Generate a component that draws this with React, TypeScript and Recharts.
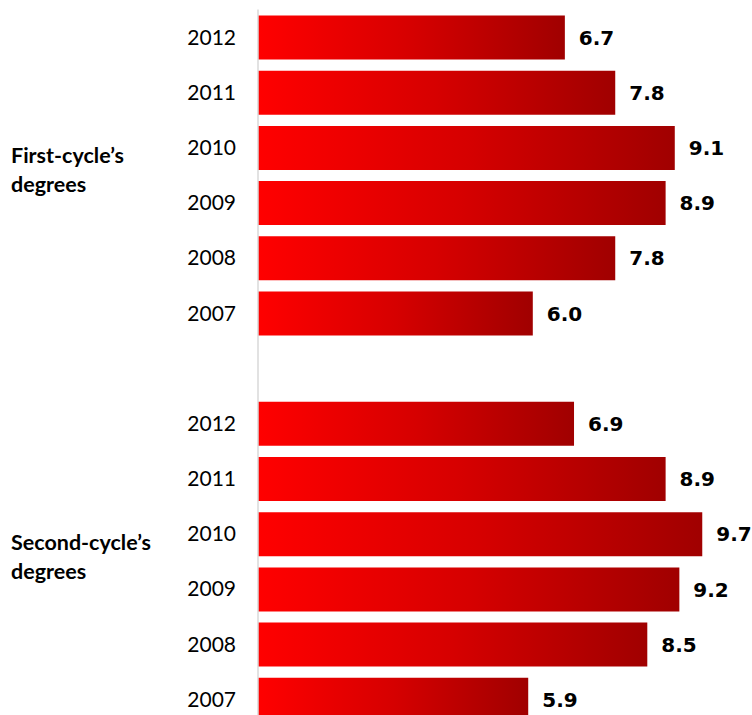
import React from "react"
import { Bar, BarChart, LabelList, XAxis, YAxis } from "recharts"

// values (top to bottom inside each group)
const years = ["2012", "2011", "2010", "2009", "2008", "2007"]
const firstCycle = [6.7, 7.8, 9.1, 8.9, 7.8, 6.0]
const secondCycle = [6.9, 8.9, 9.7, 9.2, 8.5, 5.9]
const groupNames = [
  ["First-cycle’s", "degrees"],
  ["Second-cycle’s", "degrees"],
]
// row inside each group where the group name is drawn
const groupLabelRow = "2010"

type Row = { key: string; year: string; value: number | null; group?: string[] }

const buildRows = (): Row[] => {
  const rows: Row[] = []
  const groups = [firstCycle, secondCycle]
  groups.forEach((vals, g) => {
    if (g > 0) rows.push({ key: `gap-${g}`, year: "", value: null })
    years.forEach((year, i) => {
      rows.push({
        key: `${g}-${year}`,
        year,
        value: vals[i],
        group: year === groupLabelRow ? groupNames[g] : undefined,
      })
    })
  })
  return rows
}

const data = buildRows()

const YearTick = (props: any) => {
  const { x, y, payload } = props
  const row = data.find((r) => r.key === payload.value)
  if (!row) return <g />
  return (
    <g>
      <text
        x={x}
        y={y}
        dy="0.355em"
        textAnchor="end"
        fontFamily="Lato"
        fontSize={21}
        fill="#000"
      >
        {row.year}
      </text>
      {row.group && (
        <text x={11} y={y + 16} fontFamily="Lato" fontWeight="bold" fontSize={21.5} fill="#000">
          <tspan x={11}>{row.group[0]}</tspan>
          <tspan x={11} dy={29}>
            {row.group[1]}
          </tspan>
        </text>
      )}
    </g>
  )
}

export default function App() {
  return (
    <div style={{ position: "absolute", left: 0, top: 0, width: 752, height: 715, overflow: "hidden", background: "#fff" }}>
      <BarChart
        width={752}
        height={727}
        data={data}
        layout="vertical"
        margin={{ top: 9.5, right: 36, bottom: 0, left: 0 }}
      >
        <defs>
          <linearGradient id="barRed" x1="0" y1="0" x2="1" y2="0">
            <stop offset="0%" stopColor="#ff0000" />
            <stop offset="50%" stopColor="#d60000" />
            <stop offset="100%" stopColor="#a00000" />
          </linearGradient>
        </defs>
        <XAxis type="number" domain={[0, 10]} hide />
        <YAxis
          type="category"
          dataKey="key"
          width={258}
          axisLine={{ stroke: "#d9d9d9", strokeWidth: 1.5 }}
          tickLine={false}
          tickSize={0}
          tickMargin={22}
          interval={0}
          tick={YearTick}
        />
        <Bar dataKey="value" fill="url(#barRed)" barSize={44} isAnimationActive={false}>
          <LabelList
            dataKey="value"
            position="right"
            offset={14}
            formatter={(v: any) => (v == null ? "" : Number(v).toFixed(1))}
            style={{ fontFamily: "DejaVu Sans", fontWeight: "bold", fontSize: 20, fill: "#000" }}
          />
        </Bar>
      </BarChart>
    </div>
  )
}
